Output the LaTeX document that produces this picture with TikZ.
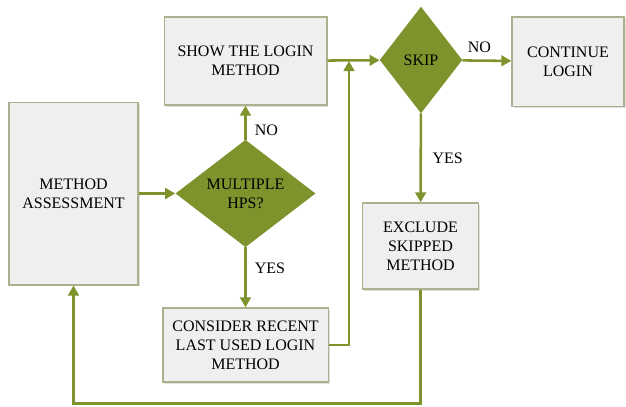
\documentclass[tikz,border=0pt]{standalone}
\usepackage{fontspec}
\setmainfont{Liberation Serif}
\usetikzlibrary{shapes.geometric,arrows.meta,shadows}

\definecolor{olivegreen}{RGB}{127,147,45}
\definecolor{boxline}{RGB}{172,176,140}
\definecolor{boxfill}{RGB}{239,239,239}

\tikzset{
  stepbox/.style={rectangle, draw=boxline, line width=1pt, fill=boxfill,
    drop shadow={shadow xshift=1.2pt, shadow yshift=-1.2pt, opacity=0.25},
    align=center, font=\fontsize{12}{14.3}\selectfont, inner sep=2pt},
  decision/.style={diamond, fill=olivegreen, inner sep=0pt, align=center,
    font=\fontsize{12}{14.3}\selectfont},
  flow/.style={draw=olivegreen, line width=1.9pt, -{Triangle[length=7.5pt,width=8pt]}},
  flowlabel/.style={font=\fontsize{12}{14.3}\selectfont, inner sep=2pt}
}

\begin{document}
\begin{tikzpicture}[x=0.75pt, y=-0.75pt]

            % page size of the reference
            \useasboundingbox (0,0) rectangle (626,407);

            % Boxes
            \node (assess) at (73.5,193.5) [stepbox, minimum width=96.75pt, minimum height=137pt] {METHOD\\ASSESSMENT};
            \node (show) at (245.5,61) [stepbox, minimum width=122pt, minimum height=66pt] {SHOW THE LOGIN\\METHOD};
            \node (recent) at (245.5,345) [stepbox, minimum width=124pt, minimum height=55.5pt] {CONSIDER RECENT\\LAST USED LOGIN\\METHOD};
            \node (cont) at (568,61.5) [stepbox, minimum width=84pt, minimum height=67pt] {CONTINUE\\LOGIN};
            \node (exclude) at (420.5,246) [stepbox, minimum width=87pt, minimum height=64.5pt] {EXCLUDE\\SKIPPED\\METHOD};

            % Decisions
            \node (hps) at (245.5,193.5) [decision, minimum width=105pt, minimum height=80pt] {MULTIPLE\\HPS?};
            \node (skip) at (421,60) [decision, minimum width=62pt, minimum height=80pt] {SKIP};

            \coordinate (join) at (349,61); % where the recent-method line meets the top line

            % Connectors
            \draw[flow] (assess) -- (hps);
            \draw[flow] (hps) -- (show) node[flowlabel, pos=0.27, right=4pt] {NO};
            \draw[flow] (hps) -- (recent) node[flowlabel, pos=0.35, right=4pt] {YES};
            \draw[flow] (recent.east) -| (join);
            \draw[flow] (show) -- (skip);
            \draw[flow] (skip) -- (cont) node[flowlabel, pos=0.35, above=3pt] {NO};
            \draw[flow] (skip) -- (exclude) node[flowlabel, midway, right=6pt] {YES};
            \draw[flow] (exclude.south) -- ++(0,114) -| (assess.south); % back to the assessment

\end{tikzpicture}
\end{document}
